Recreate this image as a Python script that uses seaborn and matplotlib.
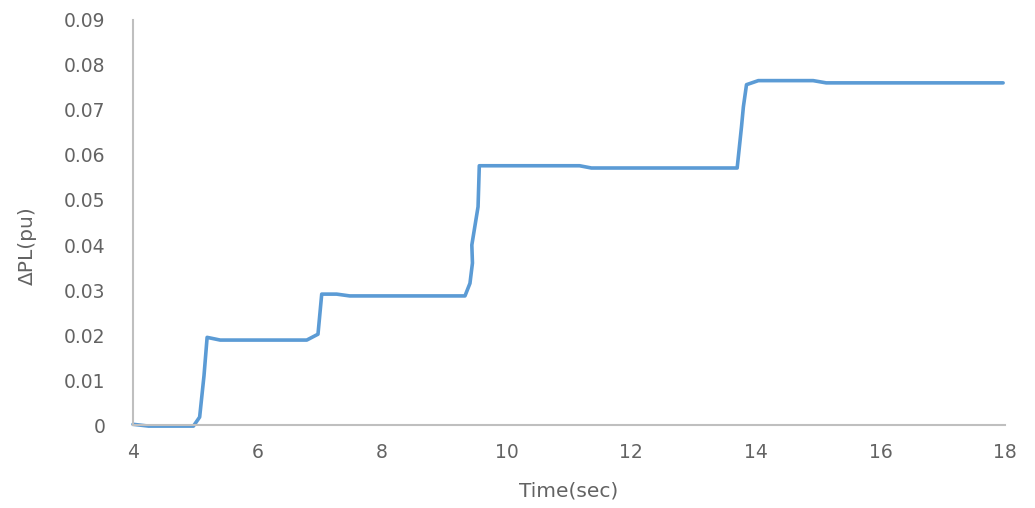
import matplotlib
matplotlib.use("Agg")
import matplotlib.pyplot as plt
import seaborn as sns
import pandas as pd

# Data
time_sec = [4.0, 4.25, 4.97, 5.07, 5.14, 5.19, 5.4, 6.79, 6.97, 7.03, 7.27, 7.48,
            9.33, 9.41, 9.45, 9.44, 9.54, 9.55, 9.56, 11.17, 11.36, 13.70, 13.77,
            13.80, 13.85, 14.04, 14.92, 15.13, 17.97]
delta_pl = [0.0002, -0.0002, -0.0002, 0.0018, 0.011, 0.0195, 0.0189, 0.0189, 0.0202,
            0.0291, 0.0291, 0.0287, 0.0287, 0.0315, 0.036, 0.040, 0.0485, 0.053,
            0.0576, 0.0576, 0.0571, 0.0571, 0.0663, 0.0707, 0.0756, 0.0765, 0.0765,
            0.0760, 0.0760]
x_ticks = [4, 6, 8, 10, 12, 14, 16, 18]
y_ticks = [0, 0.01, 0.02, 0.03, 0.04, 0.05, 0.06, 0.07, 0.08, 0.09]
y_tick_labels = ["0", "0.01", "0.02", "0.03", "0.04", "0.05", "0.06", "0.07", "0.08", "0.09"]

df = pd.DataFrame({"Time(sec)": time_sec, "ΔPL(pu)": delta_pl})

sns.set_theme(style="white")
plt.rcParams["font.family"] = ["DejaVu Sans"]

fig = plt.figure(figsize=(10.35, 5.08), dpi=100)
ax = fig.add_axes([0.1285, 0.163, 0.8425, 0.798])

sns.lineplot(data=df, x="Time(sec)", y="ΔPL(pu)", sort=False, ax=ax,
             color="#5B9BD5", linewidth=2.6, clip_on=False)

ax.set_xlim(4, 18)
ax.set_ylim(0, 0.09)
ax.set_xticks(x_ticks)
ax.set_xticklabels([str(t) for t in x_ticks])
ax.set_yticks(y_ticks)
ax.set_yticklabels(y_tick_labels)

for s in ["top", "right"]:
    ax.spines[s].set_visible(False)
for s in ["left", "bottom"]:
    ax.spines[s].set_color("#BFBFBF")
    ax.spines[s].set_linewidth(1.5)

ax.tick_params(axis="both", length=0, labelsize=13.5, labelcolor="#636363")
ax.tick_params(axis="y", pad=20)
ax.tick_params(axis="x", pad=13)

ax.set_xlabel("Time(sec)", fontsize=14.5, color="#636363", labelpad=14)
ax.set_ylabel("ΔPL(pu)", fontsize=14.5, color="#636363")
ax.yaxis.set_label_coords(-0.11, 0.442)

fig.savefig("out.png", dpi=100)
